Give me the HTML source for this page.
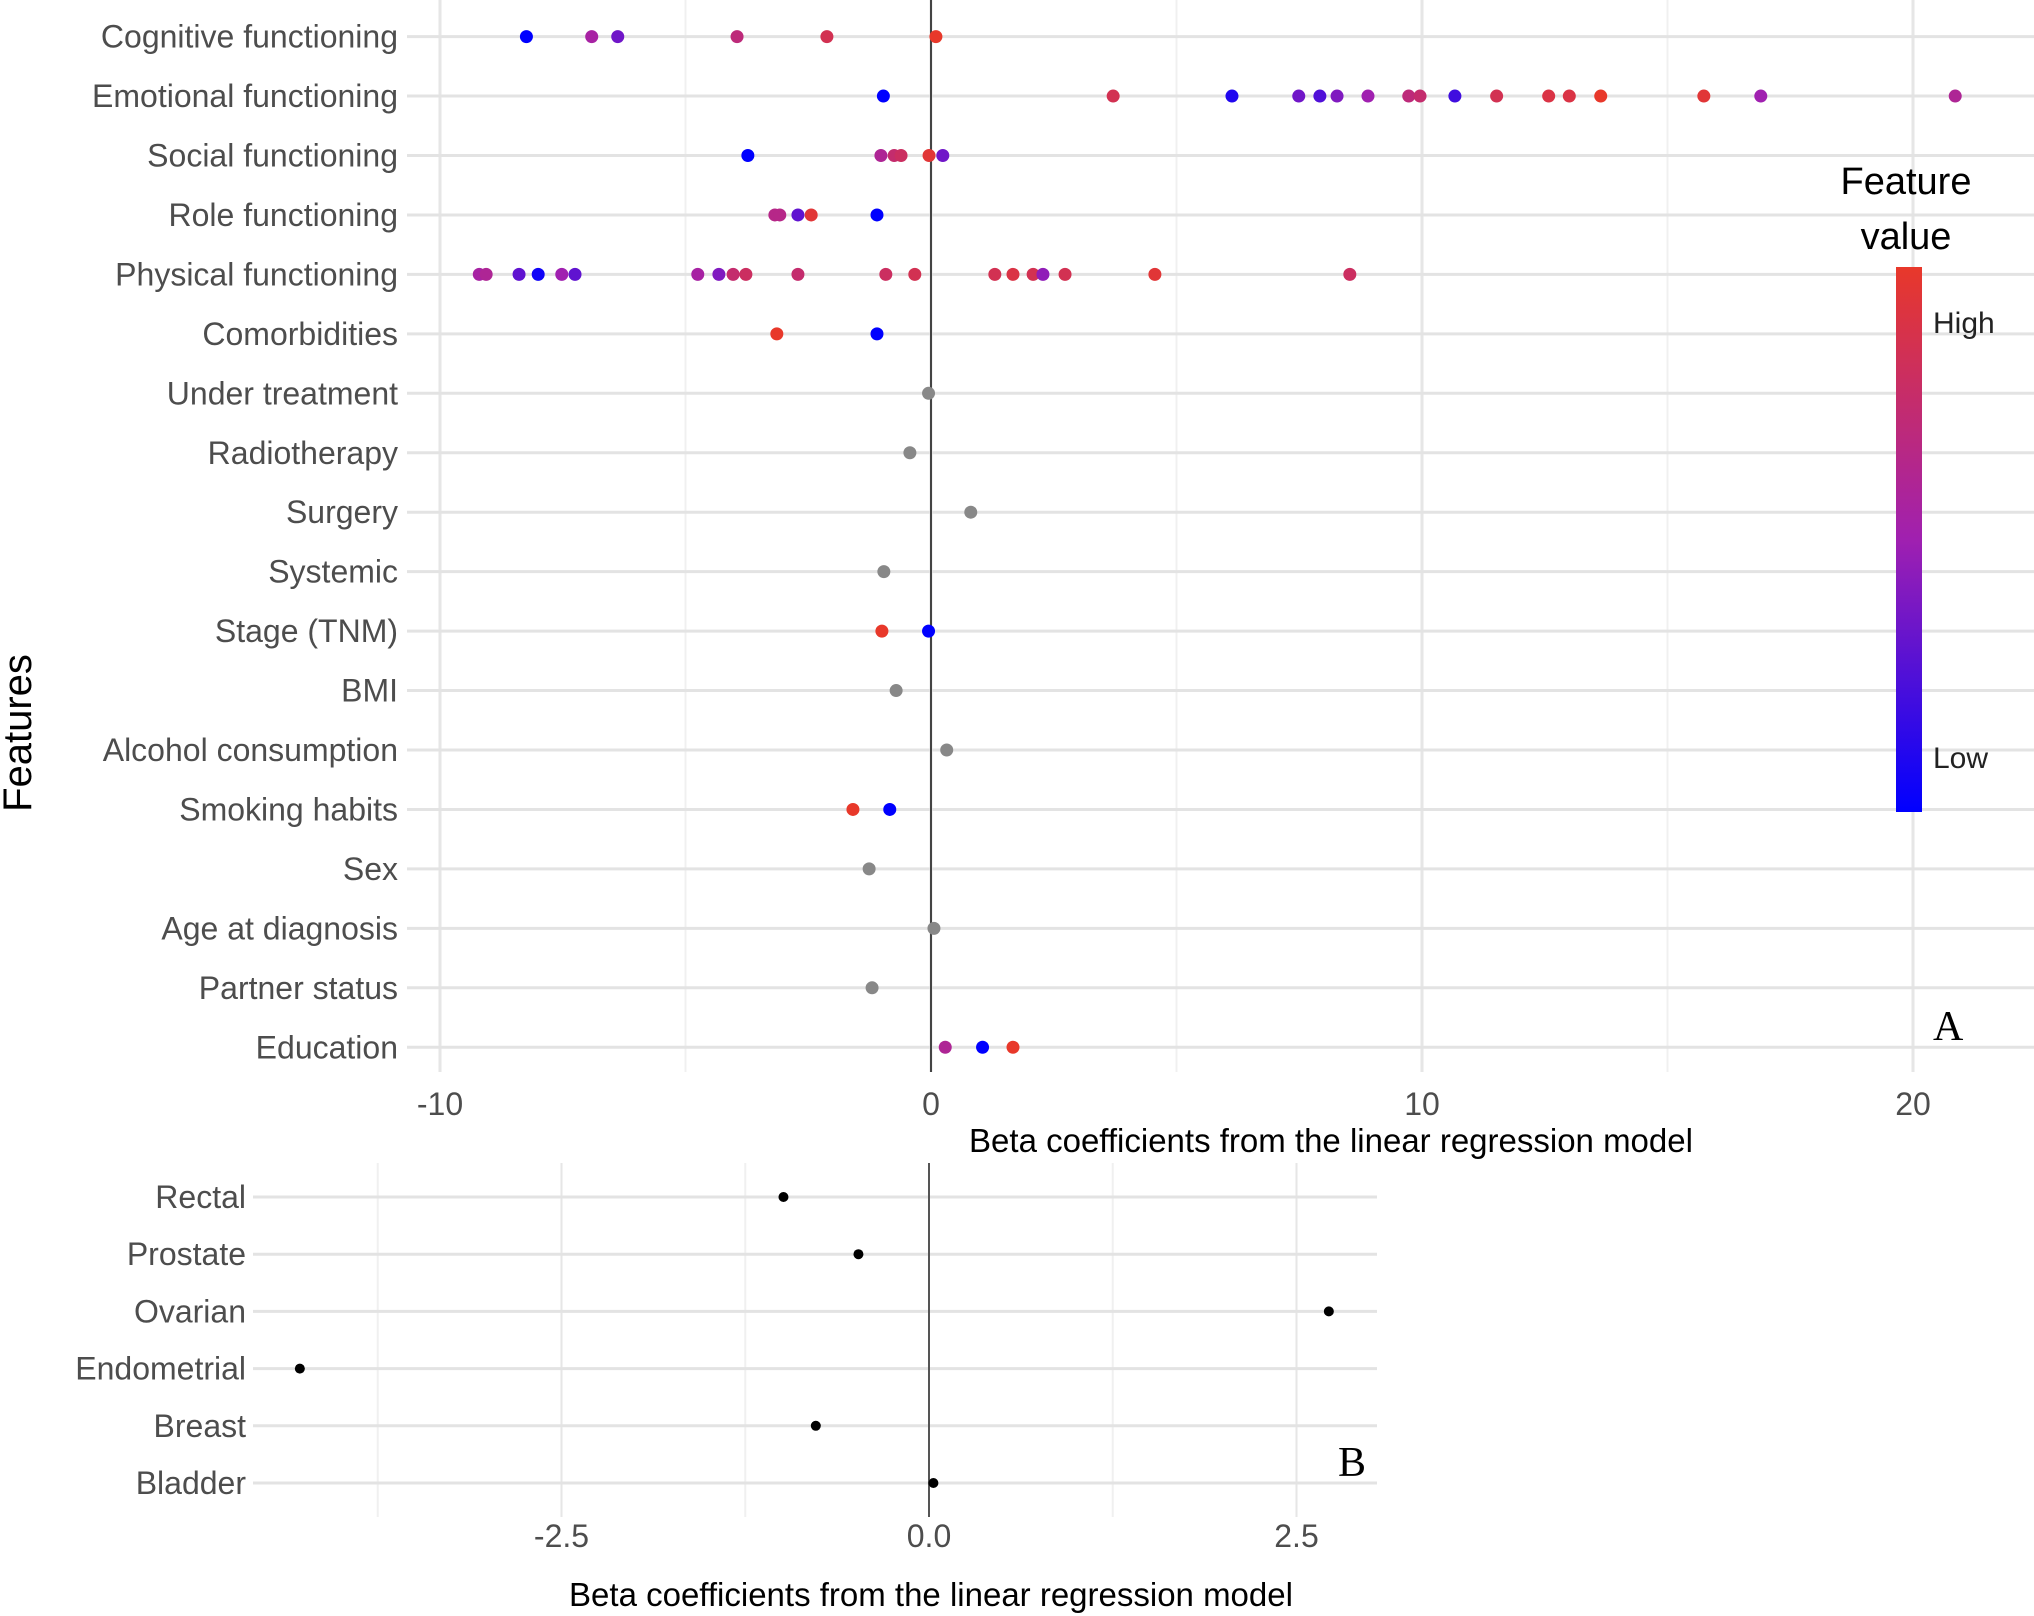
<!DOCTYPE html>
<html><head><meta charset="utf-8"><style>
html,body{margin:0;padding:0;background:#fff;}
svg{display:block;font-family:"Liberation Sans",sans-serif;}
</style></head><body>
<svg id="chart" width="2034" height="1616" viewBox="0 0 2034 1616" xmlns="http://www.w3.org/2000/svg">
<defs><linearGradient id="cg" x1="0" y1="1" x2="0" y2="0">
<stop offset="0" stop-color="#0000ff"/><stop offset="0.5" stop-color="#a020b0"/><stop offset="1" stop-color="#e8382a"/></linearGradient></defs>
<g id="gA"></g>
<g id="gB"></g>
<text x="18" y="733" font-size="40" fill="#000" text-anchor="middle" transform="rotate(-90 18 733)" dominant-baseline="central">Features</text>
<g>
<text x="1906" y="194" font-size="38" text-anchor="middle">Feature</text>
<text x="1906" y="249" font-size="38" text-anchor="middle">value</text>
<rect x="1896" y="267" width="26" height="545" fill="url(#cg)"/>
<text x="1933" y="333" font-size="30" fill="#222">High</text>
<text x="1933" y="768" font-size="30" fill="#222">Low</text>
</g>
<text x="1933" y="1040" font-size="42" font-family="Liberation Serif, serif">A</text>
<text x="1338" y="1476" font-size="42" font-family="Liberation Serif, serif">B</text>
</svg>
<script>
const featA = ["Cognitive functioning","Emotional functioning","Social functioning","Role functioning","Physical functioning","Comorbidities","Under treatment","Radiotherapy","Surgery","Systemic","Stage (TNM)","BMI","Alcohol consumption","Smoking habits","Sex","Age at diagnosis","Partner status","Education"];
const valsA = [
 [-8.24,-6.91,-6.38,-3.95,-2.12,0.1],
 [-0.97,3.71,6.13,7.49,7.92,8.27,8.90,9.73,9.96,10.67,11.52,12.58,13.00,13.64,15.74,16.90,20.86],
 [-3.73,-1.02,-0.75,-0.61,-0.04,0.24],
 [-3.18,-3.08,-2.71,-2.44,-1.10],
 [-9.2,-9.06,-8.39,-8.0,-7.52,-7.25,-4.75,-4.32,-4.03,-3.77,-2.71,-0.92,-0.33,1.30,1.67,2.08,2.28,2.73,4.56,8.53],
 [-3.14,-1.10],
 [-0.05],[-0.43],[0.81],[-0.96],
 [-1.0,-0.05],
 [-0.71],[0.32],
 [-1.59,-0.84],
 [-1.26],[0.06],[-1.2],
 [0.29,1.05,1.67]
];
const fvA = [
 [0,0.55,0.35,0.7,0.85,1],
 [0,0.85,0.1,0.35,0.25,0.4,0.5,0.7,0.75,0.2,0.85,0.9,0.9,1,0.95,0.5,0.6],
 [0,0.6,0.75,0.8,0.95,0.35],
 [0.65,0.65,0.3,0.95,0],
 [0.55,0.6,0.3,0.05,0.5,0.3,0.55,0.4,0.75,0.8,0.75,0.8,0.85,0.85,0.9,0.85,0.45,0.85,0.95,0.8],
 [1,0],
 [null],[null],[null],[null],
 [1,0],
 [null],[null],
 [1,0],
 [null],[null],[null],
 [0.6,0,1]
];
const ticksA = [-10,0,10,20];
const catB = ["Rectal","Prostate","Ovarian","Endometrial","Breast","Bladder"];
const valsB = [-0.99,-0.48,2.72,-4.28,-0.77,0.03];
const ticksB = [-2.5,0.0,2.5];

const NS="http://www.w3.org/2000/svg";
function mk(parent,tag,attrs,txt){const e=document.createElementNS(NS,tag);for(const k in attrs)e.setAttribute(k,attrs[k]);if(txt!==undefined)e.textContent=txt;parent.appendChild(e);return e;}
function col(f){if(f===null)return "#888888";
 const a=[0,0,255],m=[160,32,176],b=[232,56,42];let c;
 if(f<0.5){const t=f/0.5;c=a.map((v,i)=>Math.round(v+(m[i]-v)*t));}else{const t=(f-0.5)/0.5;c=m.map((v,i)=>Math.round(v+(b[i]-v)*t));}
 return `rgb(${c[0]},${c[1]},${c[2]})`;}

const FS=32;
const gA=document.getElementById('gA');
const xA=v=>931+v*49.1, yA=i=>36.6+i*59.45;
for(let v=-10;v<=20;v+=5){
 const l=mk(gA,'line',{x1:xA(v),x2:xA(v),y1:0,y2:1072,stroke:v%10===0?'#e6e6e6':'#f0f0f0','stroke-width':v%10===0?3:2});
 }
featA.forEach((f,i)=>{
 const l=mk(gA,'line',{x1:407,x2:2034,y1:yA(i),y2:yA(i),stroke:'#e3e3e3','stroke-width':3});
 
 const t=mk(gA,'text',{x:398,y:yA(i)+11,'font-size':FS,fill:'#4d4d4d','text-anchor':'end'},f);
 
});
const zA=mk(gA,'line',{x1:xA(0),x2:xA(0),y1:0,y2:1072,stroke:'#444','stroke-width':2});

valsA.forEach((arr,i)=>arr.forEach((v,j)=>{
 const c=mk(gA,'circle',{cx:xA(v),cy:yA(i),r:6.5,fill:col(fvA[i][j])});
 
}));
ticksA.forEach(t=>{
 const e=mk(gA,'text',{x:xA(t),y:1115,'font-size':FS,fill:'#4d4d4d','text-anchor':'middle'},String(t));
 
});
const tA=mk(gA,'text',{x:1331,y:1152,'font-size':33,fill:'#000','text-anchor':'middle'},'Beta coefficients from the linear regression model');


const gB=document.getElementById('gB');
const xB=v=>929+v*147, yB=i=>1197+i*57.2;
for(let v=-3.75;v<=2.6;v+=1.25){
 const l=mk(gB,'line',{x1:xB(v),x2:xB(v),y1:1163,y2:1517,stroke:Math.abs((v/2.5)-Math.round(v/2.5))<1e-6?'#e6e6e6':'#f0f0f0','stroke-width':2});
 }
catB.forEach((f,i)=>{
 const l=mk(gB,'line',{x1:253,x2:1377,y1:yB(i),y2:yB(i),stroke:'#e3e3e3','stroke-width':3});
 
 const t=mk(gB,'text',{x:246,y:yB(i)+11,'font-size':FS,fill:'#4d4d4d','text-anchor':'end'},f);
 
});
const zB=mk(gB,'line',{x1:xB(0),x2:xB(0),y1:1163,y2:1517,stroke:'#555','stroke-width':2});

valsB.forEach((v,i)=>{
 const c=mk(gB,'circle',{cx:xB(v),cy:yB(i),r:5,fill:'#000'});
 
});
ticksB.forEach(t=>{
 const e=mk(gB,'text',{x:xB(t),y:1547,'font-size':FS,fill:'#4d4d4d','text-anchor':'middle'},t.toFixed(1));
 
});
const tB=mk(gB,'text',{x:931,y:1606,'font-size':33,fill:'#000','text-anchor':'middle'},'Beta coefficients from the linear regression model');

</script>
</body></html>
